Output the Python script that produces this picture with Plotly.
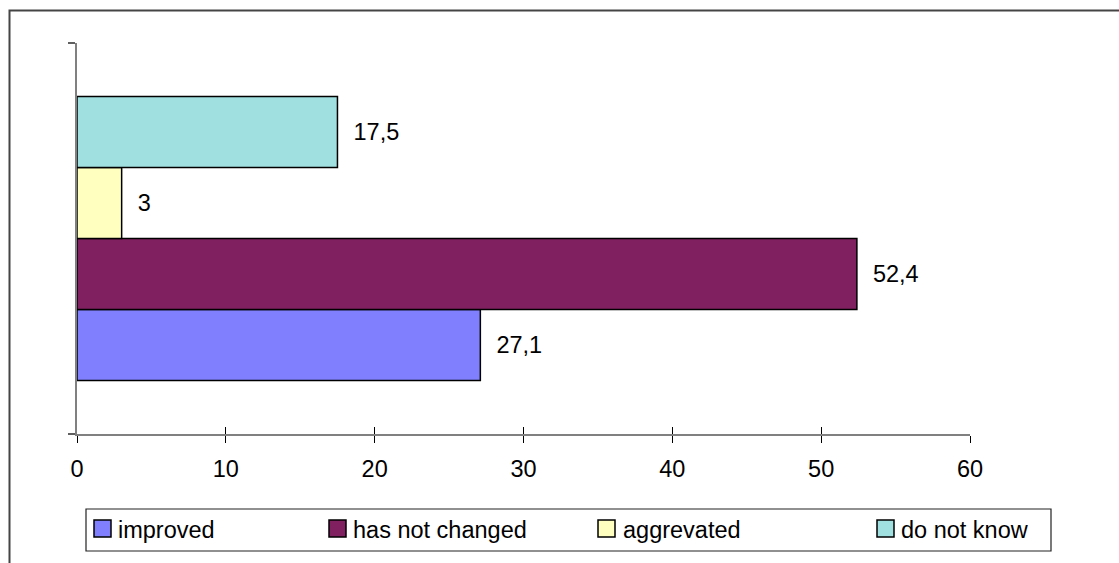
import plotly.graph_objects as go

# ---- data -------------------------------------------------------------
series_names = ["improved", "has not changed", "aggrevated", "do not know"]
series_values = [27.1, 52.4, 3, 17.5]
series_colors = ["#8080FF", "#802060", "#FFFFC0", "#A0E0E0"]
x_tick_values = [0, 10, 20, 30, 40, 50, 60]
x_tick_labels = ["0", "10", "20", "30", "40", "50", "60"]

# ---- geometry ---------------------------------------------------------
W, H = 1119, 563
L, R, T, B = 77, 149, 43, 129
PW, PH = W - L - R, H - T - B
FONT = "Arial, Liberation Sans, sans-serif"
FS = 23.5


def px(xp):
    return (xp - L) / PW


def py(yp):
    return (H - B - yp) / PH


def fmt(v):
    return ("%g" % v).replace(".", ",")


fig = go.Figure()
for name, val, col in zip(series_names, series_values, series_colors):
    fig.add_trace(go.Bar(
        x=[val], y=[0], orientation="h", name=name,
        marker=dict(color=col, line=dict(color="#000000", width=1.5)),
        text=["\u00a0\u00a0" + fmt(val)], textposition="outside",
        textfont=dict(family=FONT, size=FS, color="#000000"),
        cliponaxis=False, showlegend=False,
    ))

# companion axes carrying the inward half of the cross ticks
fig.add_trace(go.Scatter(x=[None], y=[None], xaxis="x2", yaxis="y2",
                         showlegend=False, hoverinfo="skip"))

fig.update_layout(
    width=W, height=H,
    margin=dict(l=L, r=R, t=T, b=B),
    paper_bgcolor="white", plot_bgcolor="white",
    barmode="group", bargap=0.274, bargroupgap=0,
    font=dict(family=FONT, size=FS, color="#000000"),
    xaxis=dict(range=[0, 60], tickvals=x_tick_values, ticktext=x_tick_labels,
               showgrid=False, zeroline=False, showline=True,
               linecolor="#808080", linewidth=2,
               ticks="outside", ticklen=7, tickcolor="#000000", tickwidth=1,
               tickfont=dict(family=FONT, size=FS, color="#000000"),
               ticklabelstandoff=6),
    yaxis=dict(range=[-0.5, 0.5], tickvals=[-0.5, 0.5], showticklabels=False,
               showgrid=False, zeroline=False, showline=True,
               linecolor="#808080", linewidth=2,
               ticks="outside", ticklen=7, tickcolor="#606060", tickwidth=1.5),
    xaxis2=dict(overlaying="x", matches="x", tickvals=x_tick_values,
                showticklabels=False, showgrid=False, zeroline=False,
                showline=False, ticks="inside", ticklen=7,
                tickcolor="#000000", tickwidth=1, side="bottom", anchor="y2"),
    yaxis2=dict(overlaying="y", matches="y", tickvals=[-0.5, 0.5],
                showticklabels=False, showgrid=False, zeroline=False,
                showline=False, ticks="inside", ticklen=7,
                tickcolor="#606060", tickwidth=1.5, side="left", anchor="x2"),
)

shapes = [
    # chart frame
    dict(type="rect", xref="paper", yref="paper",
         x0=px(9.5), y0=py(580), x1=px(1135), y1=py(10.5),
         line=dict(color="#444444", width=2), layer="below"),
    # legend frame
    dict(type="rect", xref="paper", yref="paper",
         x0=px(86), y0=py(551), x1=px(1051), y1=py(509),
         line=dict(color="#222222", width=1.2), fillcolor="white"),
]
annotations = []
swatch_left = [94, 329, 598, 877]
label_left = [117, 352, 622, 900]
for name, col, sx, tx in zip(series_names, series_colors, swatch_left, label_left):
    shapes.append(dict(type="rect", xref="paper", yref="paper",
                       x0=px(sx), y0=py(537), x1=px(sx + 17), y1=py(520),
                       fillcolor=col, line=dict(color="#000000", width=1.5)))
    annotations.append(dict(xref="paper", yref="paper", x=px(tx), y=py(530),
                            xanchor="left", yanchor="middle", showarrow=False,
                            text=name, borderpad=0,
                            font=dict(family=FONT, size=FS, color="#000000")))

fig.update_layout(shapes=shapes, annotations=annotations)
fig.write_html("out.html")
